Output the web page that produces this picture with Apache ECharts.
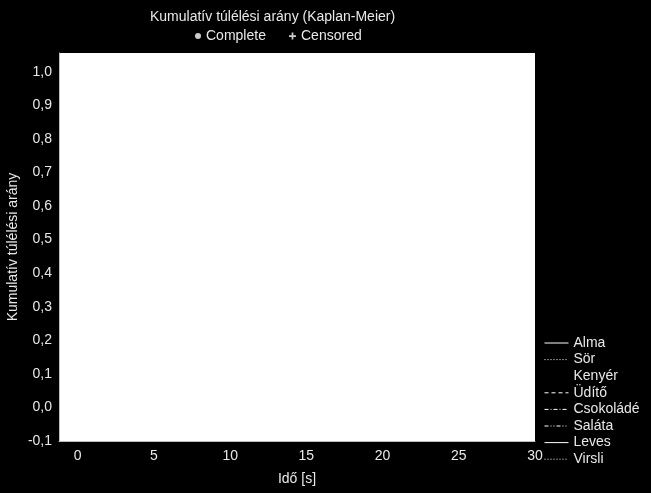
<!DOCTYPE html>
<html>
<head>
<meta charset="utf-8">
<script src="https://cdn.jsdelivr.net/npm/echarts@6/dist/echarts.min.js"></script>
<style>html,body{margin:0;padding:0;background:#000;}#c{width:651px;height:493px;}</style>
</head>
<body>
<div id="c"></div>
<script>
// Groups (legend entries) of the Kaplan-Meier plot
const groups = ['Alma', 'Sör', 'Kenyér', 'Üdítő', 'Csokoládé', 'Saláta', 'Leves', 'Virsli'];
// Survival curves: none are visible in the reference (empty plot)
const curveAlma = [], curveSor = [], curveKenyer = [], curveUdito = [];
const curveCsokolade = [], curveSalata = [], curveLeves = [], curveVirsli = [];
const curves = [curveAlma, curveSor, curveKenyer, curveUdito, curveCsokolade, curveSalata, curveLeves, curveVirsli];
const completePoints = [];
const censoredPoints = [];
// Axis ticks
const xTicks = [0, 5, 10, 15, 20, 25, 30];
const yTicks = [-0.1, 0, 0.1, 0.2, 0.3, 0.4, 0.5, 0.6, 0.7, 0.8, 0.9, 1.0];
const xRange = [-1.23, 30];
const yRange = [-0.1, 1.056];

// styles (kept separate from data)
const dashStyles = ['solid', [1, 2], 'solid', [4, 3], [4, 2, 1, 2], [4, 2, 1, 2, 1, 2], 'solid', [1, 2]];
const lineColors = ['#fff', '#fff', 'rgba(0,0,0,0)', '#fff', '#fff', '#fff', '#fff', '#fff'];
const FONT = 'Liberation Sans, Arial, sans-serif';
const TXT = '#e8e8e8';

const chart = echarts.init(document.getElementById('c'));
const series = groups.map((g, i) => ({
  name: g, type: 'line', data: curves[i], step: 'end', symbol: 'none',
  itemStyle: { color: lineColors[i] },
  lineStyle: { color: lineColors[i], width: 1, type: dashStyles[i] }
}));
series.push({ name: 'Complete', type: 'scatter', data: completePoints, symbol: 'circle', itemStyle: { color: '#fff' } });
series.push({ name: 'Censored', type: 'scatter', data: censoredPoints,
  symbol: 'path://M3,0 L5,0 L5,3 L8,3 L8,5 L5,5 L5,8 L3,8 L3,5 L0,5 L0,3 L3,3 Z', itemStyle: { color: '#fff' } });

chart.setOption({
  backgroundColor: '#000',
  animation: false,
  textStyle: { fontFamily: FONT },
  title: {
    text: 'Kumulatív túlélési arány (Kaplan-Meier)',
    left: 150, top: 10, padding: 0,
    textStyle: { color: TXT, fontSize: 14, fontWeight: 'normal', fontFamily: FONT }
  },
  legend: [
    { data: ['Complete'], left: 195, top: 29, padding: 0, itemWidth: 6, itemHeight: 6,
      textStyle: { color: TXT, fontSize: 14, fontFamily: FONT } },
    { data: ['Censored'], left: 289, top: 29, padding: 0, itemWidth: 7, itemHeight: 7,
      textStyle: { color: TXT, fontSize: 14, fontFamily: FONT } },
    { data: groups, orient: 'vertical', left: 544, top: 335, padding: 0,
      itemWidth: 24, itemHeight: 8, itemGap: 0.6,
      itemStyle: { opacity: 0, borderWidth: 0 },
      lineStyle: { width: 1 },
      textStyle: { color: TXT, fontSize: 14, lineHeight: 16, fontFamily: FONT } }
  ],
  grid: { left: 59, top: 53, right: 116, bottom: 52, show: true, backgroundColor: '#fff', borderWidth: 0,
    outerBoundsMode: 'none', containLabel: false },
  xAxis: {
    type: 'value', min: xRange[0], max: xRange[1],
    name: 'Idő [s]', nameLocation: 'middle', nameGap: 31, nameMoveOverlap: false,
    nameTextStyle: { color: TXT, fontSize: 14, fontFamily: FONT },
    axisLine: { show: true, onZero: false, lineStyle: { color: '#bdbdbd', width: 1 } },
    axisTick: { show: false },
    splitLine: { show: false },
    axisLabel: { customValues: xTicks, color: TXT, fontSize: 14, margin: 8, fontFamily: FONT,
      formatter: v => String(v) }
  },
  yAxis: {
    type: 'value', min: yRange[0], max: yRange[1],
    name: 'Kumulatív túlélési arány', nameLocation: 'middle', nameGap: 39, nameMoveOverlap: false,
    nameTextStyle: { color: TXT, fontSize: 14, fontFamily: FONT },
    axisLine: { show: true, onZero: false, lineStyle: { color: '#bdbdbd', width: 1 } },
    axisTick: { show: false },
    splitLine: { show: false },
    axisLabel: { customValues: yTicks, color: TXT, fontSize: 14, margin: 7, fontFamily: FONT,
      formatter: v => Number(v).toFixed(1).replace('.', ',') }
  },
  series: series
});
</script>
</body>
</html>
